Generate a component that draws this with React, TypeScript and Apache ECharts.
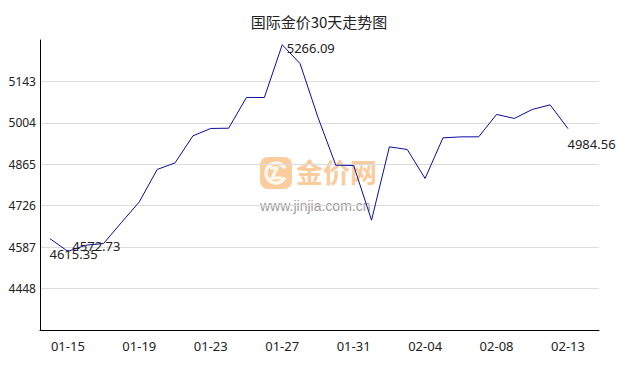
import React, { useEffect, useRef } from "react";
import * as echarts from "echarts";

const dates = [
  "01-14", "01-15", "01-16", "01-17", "01-18", "01-19", "01-20", "01-21", "01-22", "01-23",
  "01-24", "01-25", "01-26", "01-27", "01-28", "01-29", "01-30", "01-31", "02-01", "02-02",
  "02-03", "02-04", "02-05", "02-06", "02-07", "02-08", "02-09", "02-10", "02-11", "02-13",
];
const prices = [
  4615.35, 4572.73, 4593.5, 4599.2, 4669.7, 4738.8, 4847.6, 4869.7, 4960.4, 4985.2,
  4986.0, 5089.3, 5089.0, 5266.09, 5202.8, 5023.0, 4862.0, 4861.0, 4677.4, 4923.5,
  4914.7, 4817.4, 4953.7, 4957.0, 4957.2, 5032.2, 5018.8, 5049.0, 5064.4, 4984.56,
];
const yMin = 4309;
const yMax = 5282;
const yStep = 139;
const titleText = "国际金价30天走势图";
const labeledIdx = [0, 1, 13, 29];
const labelOffsets: Record<number, [number, number]> = {
  0: [0, 16],
  1: [5, -5],
  13: [5, 4],
  29: [0, 16],
};

export default function App() {
  const ref = useRef<HTMLDivElement>(null);
  useEffect(() => {
    document.body.style.margin = "0";
    if (!ref.current) return;
    const chart = echarts.init(ref.current, null, { renderer: "svg" });
    const font = "'Noto Sans', 'Noto Sans CJK SC', sans-serif";
    chart.setOption({
      animation: false,
      backgroundColor: "#ffffff",
      title: {
        text: titleText,
        left: "center",
        top: 14,
        padding: 0,
        textStyle: { fontSize: 15, fontWeight: "normal", color: "#222", fontFamily: "'Noto Sans CJK SC', sans-serif" },
      },
      grid: [
        { left: 40, right: 39, top: 40, bottom: 40 },
        { left: 50, right: 70, top: 40, bottom: 40 },
      ],
      xAxis: [
        {
          type: "value",
          gridIndex: 0,
          min: 0,
          max: 1,
          axisLine: { show: true, onZero: false, lineStyle: { color: "#000", width: 1 } },
          axisTick: { show: false },
          axisLabel: { show: false },
          splitLine: { show: false },
        },
        {
          type: "category",
          gridIndex: 1,
          data: dates,
          boundaryGap: false,
          axisLine: { show: false },
          axisTick: { show: false },
          axisLabel: {
            interval: (i: number) => (i - 1) % 4 === 0,
            margin: 9,
            fontSize: 13,
            color: "#222",
            fontFamily: font,
          },
          splitLine: { show: false },
        },
      ],
      yAxis: [
        {
          type: "value",
          gridIndex: 0,
          min: yMin,
          max: yMax,
          interval: yStep,
          axisLine: { show: true, lineStyle: { color: "#000", width: 1 } },
          axisTick: { show: false },
          axisLabel: {
            showMinLabel: false,
            showMaxLabel: false,
            margin: 4,
            fontSize: 12,
            color: "#222",
            fontFamily: font,
            formatter: (v: number) => String(v),
          },
          splitLine: {
            show: true,
            showMinLine: false,
            showMaxLine: false,
            lineStyle: { color: "#dcdcdc", width: 1 },
          },
        },
        {
          type: "value",
          gridIndex: 1,
          min: yMin,
          max: yMax,
          show: false,
          splitLine: { show: false },
        },
      ],
      graphic: [
        {
          type: "group",
          z: 1,
          children: [
            {
              type: "rect",
              shape: { x: 260, y: 157, width: 32, height: 32, r: 8 },
              style: { fill: "rgba(248,170,90,0.6)" },
            },
            {
              type: "arc",
              shape: { cx: 276, cy: 173, r: 10, startAngle: Math.PI * 0.15, endAngle: Math.PI * 1.85 },
              style: { stroke: "rgba(255,255,255,0.85)", lineWidth: 3.5, fill: "none" },
            },
            {
              type: "polyline",
              shape: { points: [[270, 168], [277, 168], [272, 178], [282, 178]] },
              style: { stroke: "rgba(255,255,255,0.85)", lineWidth: 3, fill: "none" },
            },
            {
              type: "text",
              x: 296,
              y: 171.5,
              style: {
                text: "金价网",
                font: "bold 27px 'Noto Sans CJK SC', sans-serif",
                fill: "rgba(248,170,90,0.6)",
                verticalAlign: "middle",
              },
            },
            {
              type: "text",
              x: 260,
              y: 206,
              style: {
                text: "www.jinjia.com.cn",
                font: "14px 'Liberation Sans', Arial, sans-serif",
                fill: "rgba(120,120,120,0.75)",
                verticalAlign: "middle",
              },
            },
          ],
        },
      ],
      series: [
        {
          type: "line",
          xAxisIndex: 1,
          yAxisIndex: 1,
          data: prices,
          showSymbol: false,
          symbol: "none",
          z: 3,
          lineStyle: { color: "#0c0c9e", width: 1 },
          markPoint: {
            symbol: "circle",
            symbolSize: 1,
            itemStyle: { color: "rgba(0,0,0,0)" },
            label: { show: true },
            data: labeledIdx.map((i) => ({
              coord: [i, prices[i]],
              value: prices[i],
              label: {
                show: true,
                position: labelOffsets[i],
                align: "left",
                verticalAlign: "middle",
                formatter: prices[i].toFixed(2),
                fontSize: 13,
                color: "#222",
                fontFamily: font,
              },
            })),
          },
        },
      ],
    });
    return () => chart.dispose();
  }, []);
  return <div ref={ref} style={{ width: 638, height: 370 }} />;
}
